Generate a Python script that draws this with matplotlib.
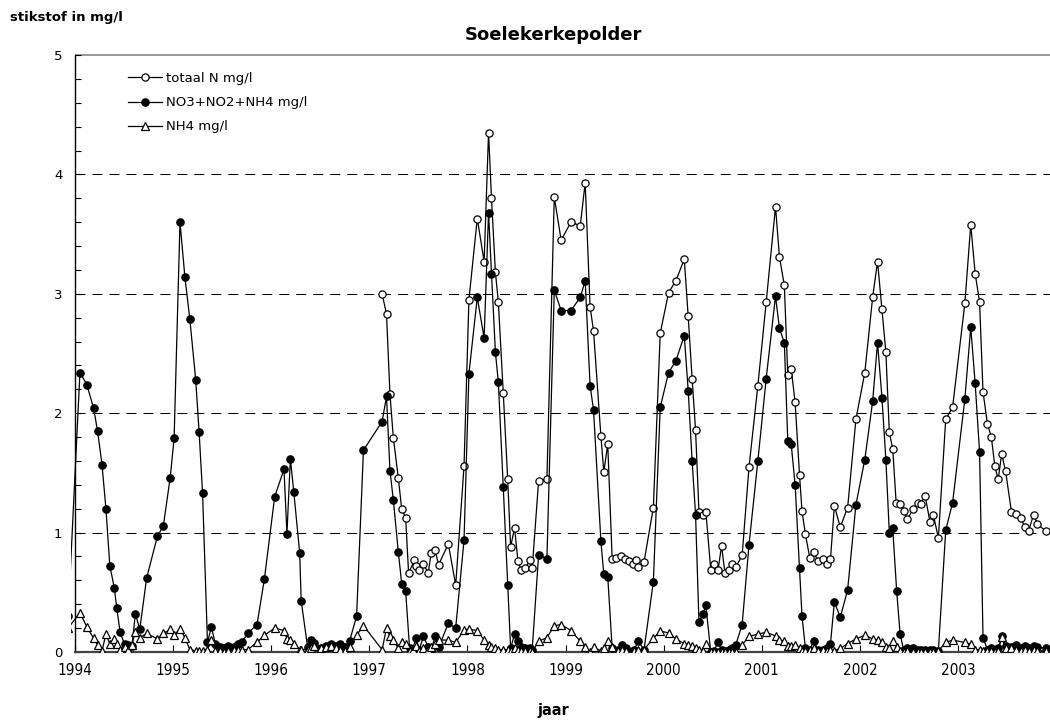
import matplotlib
matplotlib.use('Agg')
import matplotlib.pyplot as plt
from matplotlib.ticker import MultipleLocator

# sample dates (decimal years) shared by NO3+NO2+NH4 and NH4
dates = [1993.93, 1994.05, 1994.12, 1994.19, 1994.23, 1994.275, 1994.315, 1994.355, 1994.40, 1994.425,
         1994.46, 1994.505, 1994.54, 1994.58, 1994.615, 1994.66, 1994.73, 1994.84, 1994.90, 1994.97,
         1995.01, 1995.07, 1995.12, 1995.17, 1995.23, 1995.265, 1995.30, 1995.35, 1995.39, 1995.43,
         1995.48, 1995.52, 1995.56, 1995.62, 1995.66, 1995.70, 1995.76, 1995.855, 1995.93, 1996.035,
         1996.13, 1996.16, 1996.195, 1996.23, 1996.29, 1996.305, 1996.37, 1996.41, 1996.44, 1996.51,
         1996.56, 1996.61, 1996.66, 1996.70, 1996.75, 1996.80, 1996.87, 1996.94, 1997.13, 1997.175,
         1997.21, 1997.245, 1997.295, 1997.33, 1997.37, 1997.41, 1997.44, 1997.475, 1997.51, 1997.55,
         1997.60, 1997.63, 1997.67, 1997.71, 1997.805, 1997.88, 1997.965, 1998.015, 1998.10, 1998.17,
         1998.215, 1998.245, 1998.285, 1998.315, 1998.365, 1998.41, 1998.44, 1998.48, 1998.515, 1998.55,
         1998.59, 1998.635, 1998.66, 1998.725, 1998.81, 1998.885, 1998.955, 1999.055, 1999.15, 1999.20,
         1999.25, 1999.285, 1999.36, 1999.39, 1999.43, 1999.475, 1999.53, 1999.58, 1999.62, 1999.70,
         1999.74, 1999.80, 1999.895, 1999.965, 2000.05, 2000.125, 2000.21, 2000.25, 2000.29, 2000.325,
         2000.36, 2000.40, 2000.43, 2000.48, 2000.51, 2000.555, 2000.59, 2000.625, 2000.665, 2000.70,
         2000.735, 2000.80, 2000.87, 2000.96, 2001.045, 2001.14, 2001.18, 2001.23, 2001.265, 2001.30,
         2001.34, 2001.385, 2001.41, 2001.445, 2001.49, 2001.53, 2001.57, 2001.62, 2001.66, 2001.70,
         2001.74, 2001.80, 2001.875, 2001.96, 2002.05, 2002.13, 2002.18, 2002.225, 2002.265, 2002.30,
         2002.335, 2002.375, 2002.41, 2002.445, 2002.485, 2002.54, 2002.59, 2002.62, 2002.665, 2002.715,
         2002.75, 2002.80, 2002.875, 2002.945, 2003.07, 2003.13, 2003.175, 2003.22, 2003.255, 2003.30,
         2003.34, 2003.375, 2003.41, 2003.445, 2003.485, 2003.545, 2003.59, 2003.64, 2003.68, 2003.72,
         2003.77, 2003.81, 2003.90]

no3_no2_nh4 = [0.30, 2.34, 2.24, 2.04, 1.85, 1.57, 1.20, 0.72, 0.54, 0.37,
               0.165, 0.065, 0.06, 0.05, 0.32, 0.19, 0.62, 0.97, 1.055, 1.46,
               1.79, 3.60, 3.14, 2.79, 2.28, 1.84, 1.33, 0.08, 0.21, 0.07,
               0.04, 0.03, 0.05, 0.04, 0.07, 0.08, 0.155, 0.23, 0.61, 1.30,
               1.53, 0.99, 1.62, 1.34, 0.83, 0.43, 0.045, 0.10, 0.075, 0.03,
               0.05, 0.065, 0.05, 0.065, 0.045, 0.095, 0.30, 1.69, 1.93, 2.14,
               1.52, 1.27, 0.84, 0.57, 0.51, 0.03, 0.02, 0.115, 0.02, 0.13,
               0.045, 0.02, 0.13, 0.045, 0.24, 0.20, 0.935, 2.33, 2.97, 2.63,
               3.68, 3.17, 2.51, 2.26, 1.38, 0.56, 0.03, 0.15, 0.09, 0.04,
               0.03, 0.03, 0.02, 0.81, 0.78, 3.03, 2.86, 2.86, 2.97, 3.11,
               2.23, 2.03, 0.93, 0.65, 0.63, 0.03, 0.02, 0.06, 0.03, 0.02,
               0.09, 0.02, 0.59, 2.05, 2.34, 2.44, 2.65, 2.19, 1.60, 1.15,
               0.25, 0.32, 0.39, 0.0, 0.01, 0.08, 0.02, 0.01, 0.02, 0.03,
               0.06, 0.23, 0.90, 1.60, 2.29, 2.98, 2.71, 2.59, 1.77, 1.74,
               1.40, 0.70, 0.30, 0.03, 0.02, 0.095, 0.02, 0.02, 0.03, 0.067,
               0.42, 0.29, 0.52, 1.235, 1.61, 2.10, 2.59, 2.13, 1.61, 1.00,
               1.035, 0.51, 0.15, 0.02, 0.03, 0.03, 0.02, 0.02, 0.02, 0.02,
               0.02, 0.01, 1.02, 1.25, 2.12, 2.72, 2.25, 1.675, 0.12, 0.02,
               0.03, 0.02, 0.03, 0.13, 0.05, 0.04, 0.06, 0.03, 0.05, 0.03,
               0.05, 0.04, 0.03]

nh4 = [0.20, 0.33, 0.21, 0.115, 0.06, 0.01, 0.15, 0.07, 0.105, 0.07,
       0.02, 0.04, 0.02, 0.06, 0.17, 0.12, 0.155, 0.11, 0.155, 0.19,
       0.14, 0.195, 0.12, 0.02, 0.01, 0.01, 0.01, 0.02, 0.10, 0.01,
       0.01, 0.0, 0.01, 0.02, 0.02, 0.02, 0.02, 0.08, 0.14, 0.20,
       0.18, 0.11, 0.10, 0.07, 0.02, 0.02, 0.02, 0.03, 0.05, 0.03,
       0.04, 0.05, 0.03, 0.02, 0.01, 0.045, 0.14, 0.22, 0.02, 0.20,
       0.13, 0.10, 0.03, 0.08, 0.07, 0.01, 0.02, 0.05, 0.01, 0.03,
       0.02, 0.04, 0.07, 0.10, 0.10, 0.08, 0.185, 0.19, 0.18, 0.10,
       0.06, 0.04, 0.03, 0.02, 0.02, 0.02, 0.01, 0.03, 0.02, 0.01,
       0.01, 0.01, 0.0, 0.09, 0.12, 0.22, 0.23, 0.18, 0.09, 0.04,
       0.0, 0.04, 0.01, 0.03, 0.09, 0.04, 0.01, 0.02, 0.01, 0.01,
       0.02, 0.02, 0.115, 0.175, 0.16, 0.11, 0.07, 0.06, 0.05, 0.03,
       0.02, 0.01, 0.07, 0.0, 0.0, 0.0, 0.0, 0.0, 0.0, 0.0,
       0.0, 0.06, 0.13, 0.15, 0.165, 0.135, 0.10, 0.09, 0.05, 0.05,
       0.06, 0.03, 0.01, 0.01, 0.02, 0.03, 0.01, 0.02, 0.01, 0.02,
       0.01, 0.03, 0.07, 0.11, 0.14, 0.11, 0.10, 0.08, 0.04, 0.03,
       0.09, 0.04, 0.01, 0.0, 0.01, 0.0, 0.0, 0.0, 0.0, 0.0,
       0.0, 0.01, 0.08, 0.10, 0.08, 0.065, 0.02, 0.02, 0.01, 0.01,
       0.01, 0.0, 0.01, 0.125, 0.03, 0.03, 0.02, 0.01, 0.02, 0.01,
       0.02, 0.01, 0.01]

# totaal N only measured from 1997 on
dates_n = [1997.13, 1997.175, 1997.21, 1997.245, 1997.295, 1997.33, 1997.37, 1997.40, 1997.46, 1997.475,
           1997.51, 1997.55, 1997.60, 1997.63, 1997.67, 1997.705, 1997.805, 1997.88, 1997.965, 1998.015,
           1998.10, 1998.17, 1998.215, 1998.245, 1998.285, 1998.315, 1998.365, 1998.41, 1998.44, 1998.48,
           1998.515, 1998.55, 1998.59, 1998.635, 1998.66, 1998.725, 1998.81, 1998.885, 1998.955, 1999.055,
           1999.15, 1999.20, 1999.25, 1999.285, 1999.36, 1999.39, 1999.43, 1999.475, 1999.515, 1999.57,
           1999.61, 1999.65, 1999.685, 1999.72, 1999.74, 1999.80, 1999.895, 1999.965, 2000.05, 2000.125,
           2000.21, 2000.25, 2000.29, 2000.325, 2000.36, 2000.40, 2000.43, 2000.48, 2000.51, 2000.555,
           2000.59, 2000.625, 2000.665, 2000.70, 2000.735, 2000.80, 2000.87, 2000.96, 2001.045, 2001.14,
           2001.18, 2001.23, 2001.265, 2001.30, 2001.34, 2001.385, 2001.41, 2001.445, 2001.49, 2001.53,
           2001.57, 2001.62, 2001.66, 2001.70, 2001.74, 2001.80, 2001.875, 2001.96, 2002.05, 2002.13,
           2002.18, 2002.225, 2002.265, 2002.30, 2002.335, 2002.37, 2002.41, 2002.445, 2002.485, 2002.54,
           2002.59, 2002.62, 2002.665, 2002.715, 2002.75, 2002.80, 2002.875, 2002.945, 2003.07, 2003.13,
           2003.175, 2003.22, 2003.255, 2003.30, 2003.34, 2003.375, 2003.41, 2003.445, 2003.485, 2003.545,
           2003.59, 2003.64, 2003.68, 2003.72, 2003.77, 2003.81, 2003.90]

totaal_n = [3.00, 2.83, 2.16, 1.79, 1.46, 1.195, 1.125, 0.66, 0.77, 0.72,
            0.69, 0.74, 0.66, 0.83, 0.855, 0.73, 0.905, 0.56, 1.555, 2.95,
            3.63, 3.27, 4.35, 3.80, 3.18, 2.93, 2.17, 1.45, 0.88, 1.04,
            0.76, 0.685, 0.70, 0.77, 0.70, 1.43, 1.45, 3.81, 3.45, 3.60,
            3.57, 3.93, 2.89, 2.69, 1.81, 1.51, 1.74, 0.78, 0.79, 0.80,
            0.78, 0.76, 0.735, 0.77, 0.715, 0.755, 1.21, 2.67, 3.01, 3.11,
            3.29, 2.81, 2.29, 1.86, 1.17, 1.15, 1.175, 0.69, 0.74, 0.69,
            0.89, 0.66, 0.69, 0.735, 0.71, 0.81, 1.55, 2.23, 2.93, 3.73,
            3.31, 3.07, 2.32, 2.37, 2.09, 1.48, 1.18, 0.985, 0.785, 0.84,
            0.76, 0.775, 0.74, 0.775, 1.225, 1.045, 1.21, 1.95, 2.34, 2.97,
            3.27, 2.87, 2.51, 1.84, 1.70, 1.245, 1.24, 1.18, 1.11, 1.195,
            1.25, 1.24, 1.31, 1.085, 1.145, 0.955, 1.95, 2.05, 2.92, 3.58,
            3.17, 2.93, 2.18, 1.91, 1.80, 1.56, 1.445, 1.66, 1.515, 1.175,
            1.155, 1.125, 1.045, 1.015, 1.15, 1.07, 1.01]

year_ticks = list(range(1994, 2004))
y_ticks = [0, 1, 2, 3, 4, 5]
grid_levels = [1, 2, 3, 4]

narrow = ['Liberation Sans Narrow', 'DejaVu Sans']

fig = plt.figure(figsize=(10.5, 7.23), dpi=100)
# plot area runs a bit past the right edge of the picture
ax = fig.add_axes([71.1 / 1050, 71 / 723, 985 / 1050, 597 / 723])
ax.set_xlim(1993.96, 2004.0)
ax.set_ylim(0, 5)

ax.hlines(grid_levels, 1994, 2004, colors='black', linewidth=0.75,
          linestyles=(0, (9.6, 6.7)), zorder=1)
ax.hlines(5, 1994, 2004, colors='#888888', linewidth=1.2, zorder=1, clip_on=False)

ax.plot(dates_n, totaal_n, '-o', color='black', lw=0.9, ms=5.2,
        mfc='white', mec='black', mew=0.9, label='totaal N mg/l', zorder=3)
ax.plot(dates, no3_no2_nh4, '-o', color='black', lw=0.9, ms=5.2,
        mfc='black', mec='black', label='NO3+NO2+NH4 mg/l', zorder=4)
ax.plot(dates, nh4, '-^', color='black', lw=0.9, ms=6,
        mfc='white', mec='black', mew=0.9, label='NH4 mg/l', zorder=5)

for s in ['top', 'right']:
    ax.spines[s].set_visible(False)
ax.spines['left'].set_position(('data', 1994))
ax.spines['left'].set_linewidth(1.0)
ax.spines['bottom'].set_bounds(1994, 2004)
ax.spines['bottom'].set_linewidth(1.6)
ax.spines['bottom'].set_color('#444444')

ax.set_xticks(year_ticks)
ax.set_xticklabels([str(y) for y in year_ticks], family=narrow, fontsize=11,
                   fontstretch='condensed')
ax.set_yticks(y_ticks)
ax.set_yticklabels([str(v) for v in y_ticks], fontsize=9.5)
ax.yaxis.set_minor_locator(MultipleLocator(0.2))
ax.tick_params(axis='x', direction='in', length=5, width=0.8, pad=8)
ax.tick_params(axis='y', which='major', direction='in', length=4, width=0.8, pad=9)
ax.tick_params(axis='y', which='minor', direction='in', length=4, width=0.8)

ax.legend(loc='upper left', bbox_to_anchor=(128 / 1050, 1 - 72 / 723),
          bbox_transform=fig.transFigure, frameon=False, fontsize=9.5,
          handlelength=2.6, handletextpad=0.25, labelspacing=0.85,
          borderpad=0, borderaxespad=0, numpoints=1)

fig.text(553 / 1050, 1 - 35 / 723, 'Soelekerkepolder', ha='center', va='center',
         fontsize=13, fontweight='bold')
fig.text(10 / 1050, 1 - 18 / 723, 'stikstof in mg/l', ha='left', va='center',
         fontsize=9.5, fontweight='bold')
fig.text(553 / 1050, 1 - 711 / 723, 'jaar', ha='center', va='center',
         fontsize=11.5, fontweight='bold', family=narrow, fontstretch='condensed')

fig.savefig('out.png', dpi=100)
